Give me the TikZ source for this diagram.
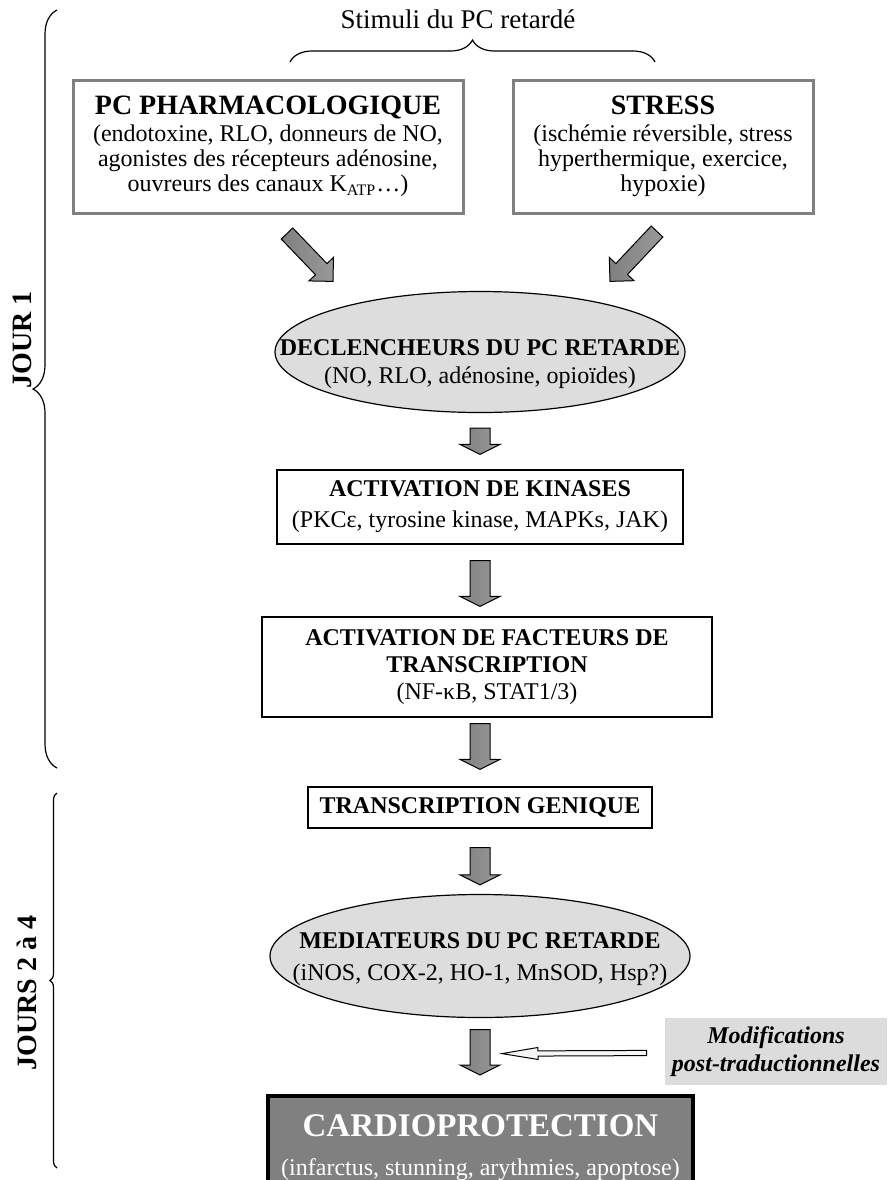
\documentclass[tikz,border=0pt]{standalone}
\usepackage{fontspec}
\setmainfont{Liberation Serif}
\usetikzlibrary{shapes.geometric,decorations.pathreplacing,calc}

\definecolor{grisbulle}{HTML}{DDDDDD}
\definecolor{griscadre}{HTML}{808080}
\definecolor{grismodif}{HTML}{DCDCDC}

\tikzset{
  stimulus/.style={draw=griscadre, line width=1.5pt, fill=white, align=center, inner sep=0pt},
  etape/.style={draw=black, line width=0.6pt, fill=white, align=center, inner sep=0pt},
  bulle/.style={ellipse, draw=black, line width=0.6pt, fill=grisbulle, inner sep=0pt},
  blocfleche/.style={draw=black, line width=0.5pt, left color=gray, middle color=gray!30, right color=gray!80},
  finefleche/.style={draw=black, line width=0.5pt, fill=gray!8},
  accolade/.style={decorate, line width=0.6pt},
  periode/.style={rotate=90, font=\fontsize{14}{14}\selectfont\bfseries},
}

% #1 style, #2 depart, #3 pointe, #4 demi-tige, #5 demi-tete, #6 longueur de tete
\newcommand{\fleche}[6]{%
  \coordinate (fD) at (#2);
  \coordinate (fP) at (#3);
  \coordinate (fB) at ($(fP)!#6!(fD)$);
  \path[#1] ($(fD)!#4!90:(fP)$) -- ($(fB)!#4!90:(fP)$) -- ($(fB)!#5!90:(fP)$) -- (fP)
    -- ($(fB)!#5!-90:(fP)$) -- ($(fB)!#4!-90:(fP)$) -- ($(fD)!#4!-90:(fP)$) -- cycle;
}

\begin{document}
\begin{tikzpicture}[x=0.5pt, y=-0.5pt]
    \useasboundingbox (0,0) rectangle (891,1180);

    % stimuli
    \node[font=\fontsize{13.5}{13.5}\selectfont] (stimuli) at (458,19) {Stimuli du PC retardé};
    \draw[accolade, decoration={brace, amplitude=11pt}] (290,62) -- (655,62);

    \node[stimulus, minimum width=195pt, minimum height=66.5pt, font=\fontsize{12}{12.5}\selectfont] (pc) at (268,146.5)
        {{\fontsize{14}{14}\selectfont\bfseries PC PHARMACOLOGIQUE}\\[1pt]
         (endotoxine, RLO, donneurs de NO,\\
         agonistes des récepteurs adénosine,\\
         ouvreurs des canaux K\textsubscript{ATP}\ldots)};
    \node[stimulus, minimum width=150pt, minimum height=66.5pt, font=\fontsize{12}{12.5}\selectfont] (stress) at (663,146.5)
        {{\fontsize{14}{14}\selectfont\bfseries STRESS}\\[1pt]
         (ischémie réversible, stress\\
         hyperthermique, exercice,\\
         hypoxie)};

    % jour 1
    \node[bulle, minimum width=205pt, minimum height=60.5pt] (decl) at (480,352) {};
    \node[align=center, font=\fontsize{12}{14}\selectfont] (decltxt) at ($(decl.center)+(0,12)$)
        {\textbf{DECLENCHEURS DU PC RETARDE}\\(NO, RLO, adénosine, opioïdes)};
    \node[etape, minimum width=203pt, minimum height=37pt, font=\fontsize{12}{15.5}\selectfont] (kin) at (480,507)
        {\textbf{ACTIVATION DE KINASES}\\(PKCε, tyrosine kinase, MAPKs, JAK)};
    \node[etape, minimum width=225pt, minimum height=50pt, font=\fontsize{12}{13.5}\selectfont] (fac) at (487,667)
        {\textbf{ACTIVATION DE FACTEURS DE}\\\textbf{TRANSCRIPTION}\\(NF-κB, STAT1/3)};

    % jours 2 a 4
    \node[etape, minimum width=172pt, minimum height=20.5pt, font=\fontsize{12}{12}\selectfont\bfseries] (tg) at (480,807.5)
        {TRANSCRIPTION GENIQUE};
    \node[bulle, minimum width=210pt, minimum height=61.5pt] (med) at (480,956) {};
    \node[align=center, font=\fontsize{12}{16}\selectfont] (medtxt) at ($(med.center)+(0,3)$)
        {\textbf{MEDIATEURS DU PC RETARDE}\\(iNOS, COX-2, HO-1, MnSOD, Hsp?)};
    \node[fill=grismodif, minimum width=111pt, minimum height=33.5pt, inner sep=0pt, align=center,
          font=\fontsize{12}{14}\selectfont\bfseries\itshape] (modif) at (776,1051.5)
        {Modifications\\post-traductionnelles};
    \node[draw=black, line width=2pt, fill=griscadre, text=white, align=center, inner sep=0pt,
          minimum width=212.5pt, minimum height=51.5pt, font=\fontsize{12}{19.5}\selectfont] (cardio) at (480.5,1147.5)
        {{\fontsize{16.5}{16.5}\selectfont\bfseries CARDIOPROTECTION}\\(infarctus, stunning, arythmies, apoptose)};

    % fleches
    \fleche{blocfleche}{$(pc.south)+(19,19)$}{$(decl.north)+(-147,-9.5)$}{4pt}{8.5pt}{8.5pt}
    \fleche{blocfleche}{$(stress.south)+(-6,17)$}{$(decl.north)+(130,-9.5)$}{4pt}{8.5pt}{8.5pt}
    \fleche{blocfleche}{$(decl.south)+(0,15)$}{$(kin.north)+(0,-15)$}{5pt}{10pt}{5pt}
    \fleche{blocfleche}{$(kin.south)+(0,16)$}{$(kin.south |- fac.north)+(0,-10)$}{5pt}{10pt}{5pt}
    \fleche{blocfleche}{$(kin.south |- fac.south)+(0,6)$}{$(tg.north)+(0,-17)$}{5pt}{10pt}{5pt}
    \fleche{blocfleche}{$(tg.south)+(0,19)$}{$(med.north)+(0,-9)$}{5pt}{10pt}{5pt}
    \fleche{blocfleche}{$(med.south)+(0,11.5)$}{$(med.south |- cardio.north)+(0,-19)$}{5pt}{10pt}{5pt}
    \coordinate (pointe) at ($(med.south)+(22,35.5)$);
    \fleche{finefleche}{$(modif.west)+(-18,1.5)$}{pointe}{1.3pt}{3pt}{18pt}

    % periodes
    \draw[accolade, decoration={brace, amplitude=12pt}] (57,768) -- (57,10);
    \node[periode] (jour1) at (22,340) {JOUR 1};
    \draw[accolade, decoration={brace, amplitude=3.5pt}] (57,1168) -- (57,793);
    \node[periode] (jours) at (27,993) {JOURS 2 à 4};
\end{tikzpicture}
\end{document}
